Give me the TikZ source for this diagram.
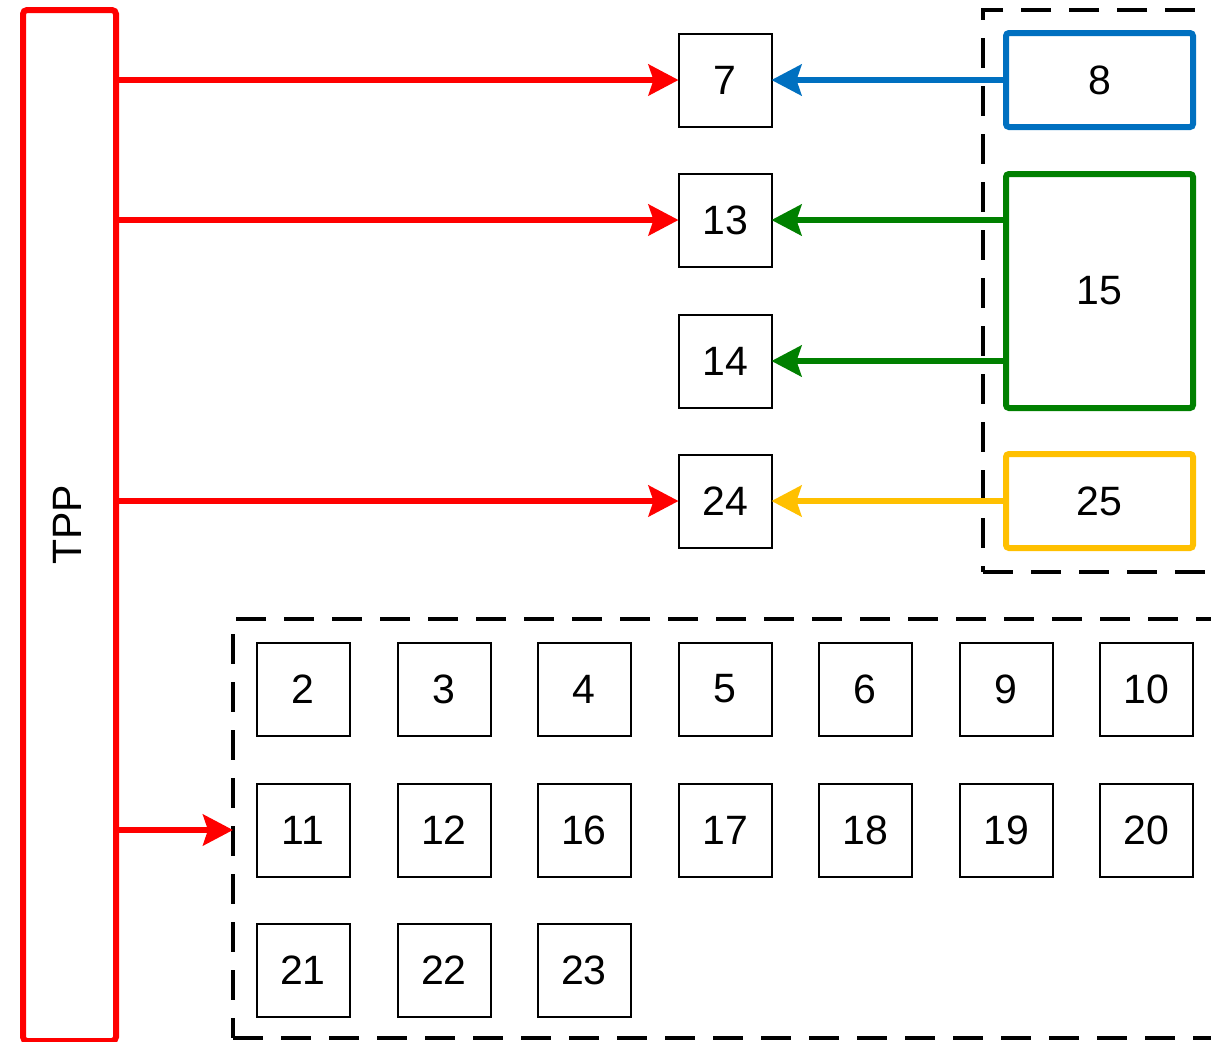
\documentclass[tikz,border=0pt]{standalone}
\usepackage{fontspec}
\setmainfont{Liberation Sans}
\usetikzlibrary{arrows.meta,calc}
\definecolor{tppred}{RGB}{255,0,0}
\definecolor{srcblue}{RGB}{0,112,192}
\definecolor{srcgreen}{RGB}{0,128,0}
\definecolor{srcyellow}{RGB}{255,192,0}

\begin{document}
\begin{tikzpicture}[x=0.5pt,y=-0.5pt,
	every node/.style={font=\fontsize{20.5}{24}\selectfont, inner sep=0pt, outer sep=0pt},
	cell/.style={draw, line width=1pt, minimum size=46.5pt},
	src/.style={draw=#1, line width=3pt, rounded corners=1.5pt, minimum width=93.5pt},
	grp/.style={draw, line width=1.75pt, dash pattern=on 15pt off 9pt},
	feed/.style={draw=#1, line width=2.75pt, -{Stealth[length=15pt,width=15.5pt,inset=2.5pt]}}]
\useasboundingbox (0,0) rectangle (1211,1041);
\clip (0,0) rectangle (1211,1041);
% dashed groups
\node[grp, minimum width=128.5pt, minimum height=281pt] (grp1) at (1111.5,291) {};
\node[grp, minimum width=503.5pt, minimum height=209.5pt] (grp2) at (736.5,828.5) {};
% TPP
\node[draw=tppred, line width=3pt, rounded corners=2pt, minimum width=46.5pt, minimum height=515.5pt] (tpp) at (69.5,525.5) {};
\node[rotate=90] (tpplabel) at (67,525) {TPP};
% middle column
\node[cell] (b7) at (725,80) {7};
\node[cell] (b13) at (725,220) {13};
\node[cell] (b14) at (725,361) {14};
\node[cell] (b24) at (725,501) {24};
% sources
\node[src=srcblue, minimum height=47pt] (b8) at (1099.5,80) {8};
\node[src=srcgreen, minimum height=117pt] (b15) at (1099.5,291) {15};
\node[src=srcyellow, minimum height=47pt] (b25) at (1099.5,501) {25};
% grid
\node[cell] (b2) at (303,689) {2};
\node[cell] (b3) at (444,689) {3};
\node[cell] (b4) at (584,689) {4};
\node[cell] (b5) at (725,689) {5};
\node[cell] (b6) at (865,689) {6};
\node[cell] (b9) at (1006,689) {9};
\node[cell] (b10) at (1146,689) {10};
\node[cell] (b11) at (303,830) {11};
\node[cell] (b12) at (444,830) {12};
\node[cell] (b16) at (584,830) {16};
\node[cell] (b17) at (725,830) {17};
\node[cell] (b18) at (865,830) {18};
\node[cell] (b19) at (1006,830) {19};
\node[cell] (b20) at (1146,830) {20};
\node[cell] (b21) at (303,970) {21};
\node[cell] (b22) at (444,970) {22};
\node[cell] (b23) at (584,970) {23};
% arrows
\draw[feed=tppred] (tpp.east |- b7) -- (b7);
\draw[feed=tppred] (tpp.east |- b13) -- (b13);
\draw[feed=tppred] (tpp.east |- b24) -- (b24);
\draw[feed=tppred] (tpp.east |- b11) -- (grp2.west |- b11);
\draw[feed=srcblue] (b8) -- (b7);
\draw[feed=srcgreen] (b15.west |- b13) -- (b13);
\draw[feed=srcgreen] (b15.west |- b14) -- (b14);
\draw[feed=srcyellow] (b25) -- (b24);
\end{tikzpicture}
\end{document}
